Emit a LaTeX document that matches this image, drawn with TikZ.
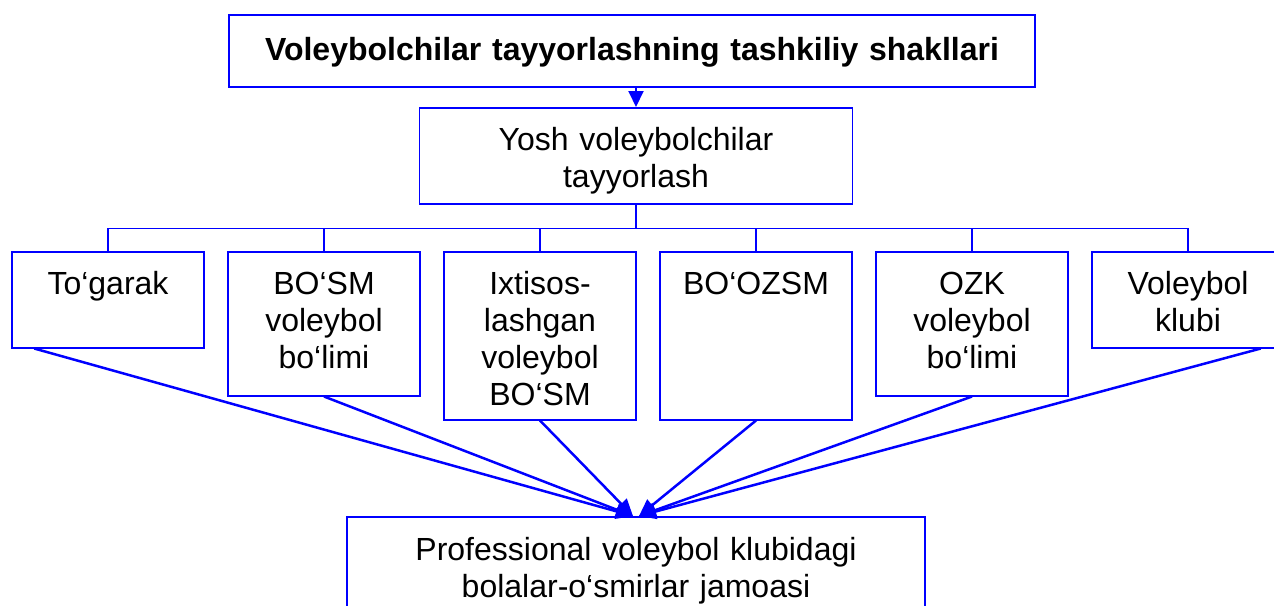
\documentclass[tikz,border=0pt]{standalone}
\usepackage{fontspec}
\setmainfont{Liberation Sans}
\usetikzlibrary{arrows.meta}

\begin{document}
\begin{tikzpicture}[x=1pt,y=-1pt,
  font=\fontsize{32}{37}\selectfont,
  unit/.style={draw=blue,line width=1.5pt,anchor=north,inner sep=0pt,
    align=center,text width=192pt,text height=43pt},
  link/.style={draw=blue,line width=1.5pt},
  feed/.style={draw=blue,line width=2.5pt,-{Triangle[length=17pt,width=15pt]}}]
  \useasboundingbox (0,0) rectangle (1274,605);
  \clip (0,0) rectangle (1274,605);
  % top levels
  \node[unit,text width=806pt,text height=46pt,text depth=26pt] (title) at (632,14)
    {\bfseries Voleybolchilar tayyorlashning tashkiliy shakllari};
  \node[unit,text width=433pt,text depth=53pt] (yosh) at (636,107)
    {Yosh voleybolchilar\\tayyorlash};
  \draw[link,line width=2pt,-{Triangle[length=16pt,width=15pt]}] (yosh.north |- title.south) -- (yosh.north);
  % forms
  \node[unit,text depth=53pt] (togarak) at (108,251) {To‘garak};
  \node[unit,text depth=101pt] (bosm) at (324,251) {BO‘SM\\voleybol\\bo‘limi};
  \node[unit,text depth=125pt] (ixt) at (540,251) {Ixtisos-\\lashgan\\voleybol\\BO‘SM};
  \node[unit,text depth=125pt] (boozsm) at (756,251) {BO‘OZSM};
  \node[unit,text depth=101pt] (ozk) at (972,251) {OZK\\voleybol\\bo‘limi};
  \node[unit,text depth=53pt] (klub) at (1188,251) {Voleybol\\klubi};
  \draw[link] (yosh.south) -- ++(0,24) coordinate (hub);
  \draw[link] (togarak.north) |- (hub) -| (klub.north);
  \foreach \b in {bosm,ixt,boozsm,ozk}
    \draw[link] (\b.north) -- (\b.north |- hub);
  % team
  \node[unit,text width=578pt,text height=44pt,text depth=70pt] (jamoa) at (636,516)
    {Professional voleybol klubidagi\\bolalar-o‘smirlar jamoasi};
  \draw[feed] ([xshift=23pt]togarak.south west) -- ([xshift=-3pt]jamoa.north);
  \draw[feed] (bosm.south) -- ([xshift=-3pt]jamoa.north);
  \draw[feed] (ixt.south) -- ([xshift=-3pt]jamoa.north);
  \draw[feed] (boozsm.south) -- ([xshift=3pt]jamoa.north);
  \draw[feed] (ozk.south) -- ([xshift=3pt]jamoa.north);
  \draw[feed] ([xshift=-24pt]klub.south east) -- ([xshift=3pt]jamoa.north);
\end{tikzpicture}
\end{document}
